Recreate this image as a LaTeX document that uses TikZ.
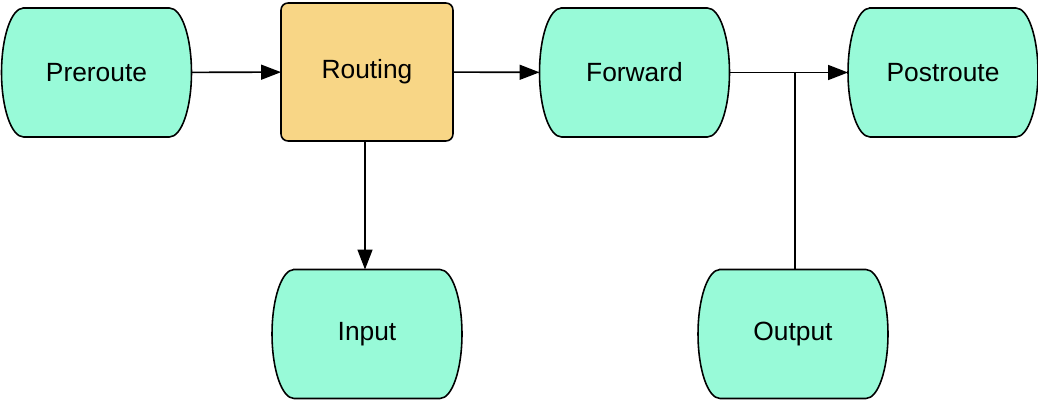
\documentclass[tikz,border=0pt]{standalone}
\usepackage{fontspec}
\setmainfont{Liberation Sans}
\usepackage{tikz}
\usetikzlibrary{arrows.meta,backgrounds}

\definecolor{chaingreen}{RGB}{152,250,216}
\definecolor{routeorange}{RGB}{248,214,134}

\tikzset{
  chain/.style = {minimum width = 3.8cm, minimum height = 2.58cm, inner sep = 0pt, outer sep = 0pt, font = \fontsize{15}{18}\selectfont},
  decide/.style = {draw, line width = 0.9pt, fill = routeorange, rounded corners = 0.14cm, minimum width = 3.44cm, minimum height = 2.76cm, inner sep = 0pt, outer sep = 0pt, font = \fontsize{15}{18}\selectfont},
  flow/.style = {line width = 0.9pt, -{Triangle[length = 0.4cm, width = 0.3cm]}},
  link/.style = {line width = 0.9pt}
}

\begin{document}
\begin{tikzpicture}[x = 0.02cm, y = 0.02cm]
\useasboundingbox (0,0) rectangle (1038,-402);
\node [chain] (pre) at (96.5,-72.5) {Preroute};
\node [decide] (rout) at (367,-72) {Routing};
\node [chain] (fwd) at (634.5,-72.5) {Forward};
\node [chain] (post) at (943,-72.5) {Postroute};
\node [chain] (in) at (367,-334) {Input};
\node [chain] (out) at (793,-334) {Output};
\begin{pgfonlayer}{background}
\foreach \n in {pre,fwd,post,in,out}
  \draw [line width = 0.9pt, fill = chaingreen] ([xshift = 0.44cm]\n.north west) -- ([xshift = -0.44cm]\n.north east)
    arc [start angle = 90, end angle = -90, x radius = 0.44cm, y radius = 1.29cm]
    -- ([xshift = 0.44cm]\n.south west)
    arc [start angle = 270, end angle = 90, x radius = 0.44cm, y radius = 1.29cm] -- cycle;
\end{pgfonlayer}
\draw [flow] (pre) -- (rout);
\draw [flow] (rout) -- (fwd);
\draw [flow] (fwd) -- (post);
\draw [flow] (rout.south -| in.north) ++(-2,0) -- ([xshift = -0.04cm]in.north);
\draw [link] ([xshift = 0.04cm]out.north) -- ([xshift = 0.04cm]out.north |- fwd.east);
\end{tikzpicture}
\end{document}
